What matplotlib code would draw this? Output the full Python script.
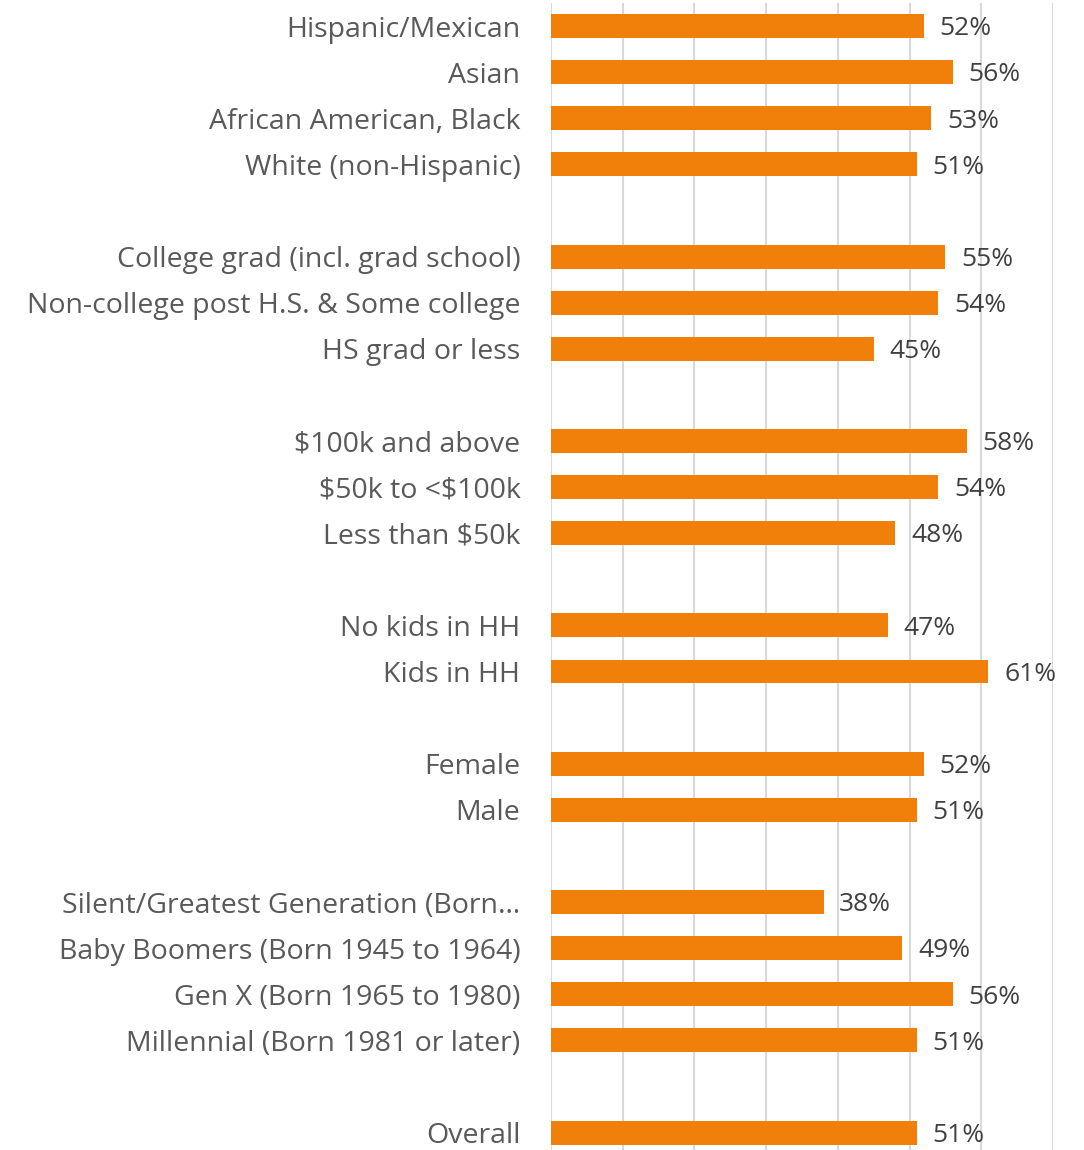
import matplotlib
matplotlib.use("Agg")
import matplotlib.pyplot as plt

categories = [
    "Hispanic/Mexican", "Asian", "African American, Black", "White (non-Hispanic)", "",
    "College grad (incl. grad school)", "Non-college post H.S. & Some college", "HS grad or less", "",
    "\\$100k and above", "\\$50k to <\\$100k", "Less than \\$50k", "",
    "No kids in HH", "Kids in HH", "",
    "Female", "Male", "",
    "Silent/Greatest Generation (Born\u2026", "Baby Boomers (Born 1945 to 1964)",
    "Gen X (Born 1965 to 1980)", "Millennial (Born 1981 or later)", "",
    "Overall",
]
values = [52, 56, 53, 51, None,
          55, 54, 45, None,
          58, 54, 48, None,
          47, 61, None,
          52, 51, None,
          38, 49, 56, 51, None,
          51]
xticks = [0, 10, 20, 30, 40, 50, 60, 70]

plt.rcParams['font.family'] = ['Open Sans', 'DejaVu Sans']

W, H = 1084, 1150
fig = plt.figure(figsize=(W / 100, H / 100), dpi=100)
top_px, bot_px = 3, 1155.6
ax = fig.add_axes([551 / W, (H - bot_px) / H, (1053 - 551) / W, (bot_px - top_px) / H])

n = len(categories)
ys = list(range(n))
bar_vals = [v if v is not None else 0 for v in values]
ax.barh(ys, bar_vals, height=0.52, color='#F0800A', zorder=3)
for y, v in zip(ys, values):
    if v is not None:
        ax.text(v + 2.2, y + 0.06, f"{v}%", va='center', ha='left',
                fontsize=19, color='#404040', zorder=4)

ax.set_ylim(n - 0.5, -0.5)
ax.set_xlim(0, 70)
ax.set_xticks(xticks)
ax.set_yticks(ys)
ax.set_yticklabels(categories, fontsize=20.5, color='#595959')
ax.tick_params(axis='y', length=0, pad=22)
ax.tick_params(axis='x', length=0, labelbottom=False)
ax.grid(axis='x', color='#D9D9D9', linewidth=1.5, zorder=0)
for s in ax.spines.values():
    s.set_visible(False)

fig.savefig("out.png", dpi=100)
